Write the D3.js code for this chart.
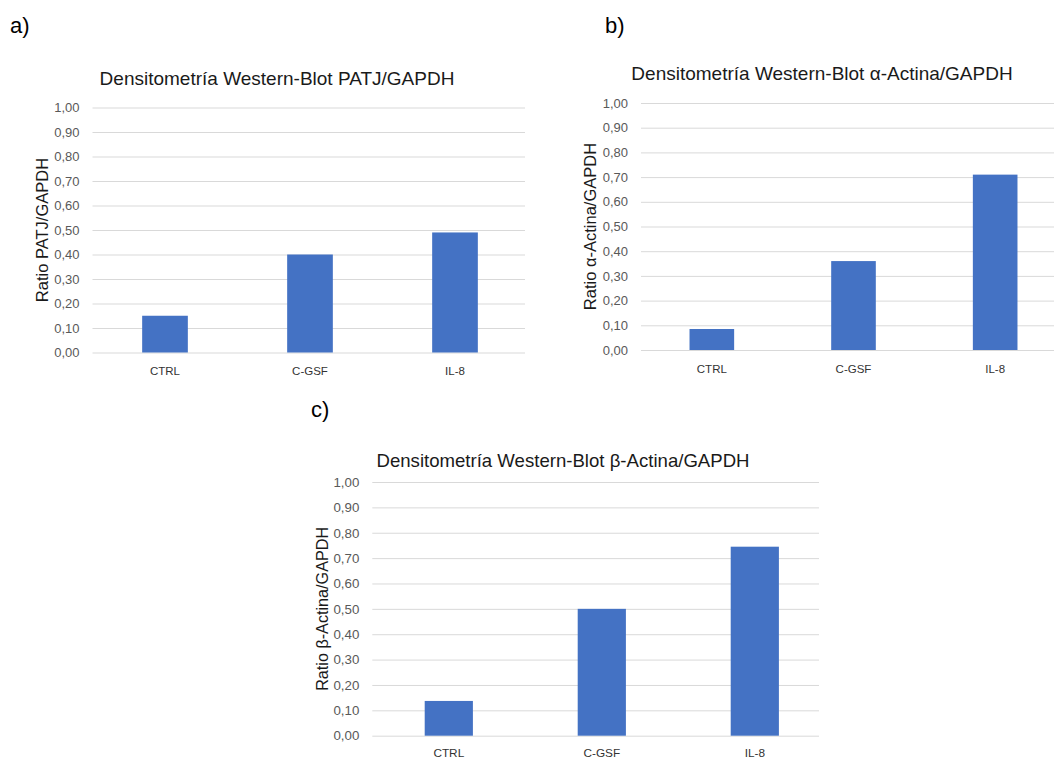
<!DOCTYPE html>
<html>
<head>
<meta charset="utf-8">
<script src="https://cdn.jsdelivr.net/npm/d3@7"></script>
<style>
  html, body { margin: 0; padding: 0; background: #ffffff; }
  svg { display: block; }
</style>
</head>
<body>
<svg id="chart" width="1054" height="760"></svg>
<script>
// ---------- DATA ----------
const categories = ["CTRL", "C-GSF", "IL-8"];
const valuesPATJ = [0.15, 0.40, 0.49];
const valuesAlphaActina = [0.085, 0.36, 0.71];
const valuesBetaActina = [0.137, 0.50, 0.745];
const yTickValues = [0, 0.1, 0.2, 0.3, 0.4, 0.5, 0.6, 0.7, 0.8, 0.9, 1.0];
const panelLetters = ["a)", "b)", "c)"];
const panelTitles = [
  "Densitometría Western-Blot PATJ/GAPDH",
  "Densitometría Western-Blot α-Actina/GAPDH",
  "Densitometría Western-Blot β-Actina/GAPDH"
];
const yAxisTitles = ["Ratio PATJ/GAPDH", "Ratio α-Actina/GAPDH", "Ratio β-Actina/GAPDH"];

// ---------- LAYOUT ----------
const layouts = [
  { values: valuesPATJ, x0: 92.5, x1: 527.5, gridX1: 525, yTop: 107.5, yBottom: 352.5,
    titleX: 277, titleY: 85, titleFs: 19, ylabX: 42, ylabFs: 16.5, tickFs: 13, catFs: 11.5,
    catY: 375, letterX: 10, letterY: 33 },
  { values: valuesAlphaActina, x0: 641, x1: 1066, gridX1: 1066, yTop: 103, yBottom: 350,
    titleX: 822, titleY: 80, titleFs: 19, ylabX: 590, ylabFs: 16.5, tickFs: 13, catFs: 11.5,
    catY: 372.5, letterX: 605, letterY: 33 },
  { values: valuesBetaActina, x0: 372.3, x1: 831.3, gridX1: 819, yTop: 482, yBottom: 735.7,
    titleX: 563, titleY: 467, titleFs: 18.6, ylabX: 322, ylabFs: 16.2, tickFs: 13.3, catFs: 11.8,
    catY: 757, letterX: 311, letterY: 417 }
];

const svg = d3.select("#chart");
const FONT = "'Liberation Sans', Arial, sans-serif";
const fmt = d => d.toFixed(2).replace(".", ",");

layouts.forEach((L, i) => {
  const g = svg.append("g");
  const x = d3.scaleBand().domain(categories).range([L.x0, L.x1])
    .paddingInner(0.685).paddingOuter(0.3425);
  const y = d3.scaleLinear().domain([0, 1]).range([L.yBottom, L.yTop]);

  // panel letter
  svg.append("text").attr("x", L.letterX).attr("y", L.letterY)
    .attr("font-family", FONT).attr("font-size", 22).attr("fill", "#000")
    .text(panelLetters[i]);

  // title
  g.append("text").attr("x", L.titleX).attr("y", L.titleY)
    .attr("text-anchor", "middle").attr("font-family", FONT)
    .attr("font-size", L.titleFs).attr("fill", "#1a1a1a")
    .text(panelTitles[i]);

  // y axis with gridlines
  const yAxis = d3.axisLeft(y).tickValues(yTickValues)
    .tickSize(-(L.gridX1 - L.x0)).tickPadding(13).tickFormat(fmt);
  const ya = g.append("g").attr("transform", `translate(${L.x0},0)`).call(yAxis);
  ya.select(".domain").remove();
  ya.selectAll(".tick line").attr("stroke", "#d9d9d9").attr("stroke-width", 1);
  ya.selectAll(".tick text").attr("font-family", FONT)
    .attr("font-size", L.tickFs).attr("fill", "#595959");

  // bars
  g.selectAll("rect.bar").data(L.values).join("rect")
    .attr("class", "bar")
    .attr("x", (d, j) => x(categories[j]))
    .attr("width", x.bandwidth())
    .attr("y", d => y(d))
    .attr("height", d => y(0) - y(d))
    .attr("fill", "#4472C4");

  // x axis labels
  const xAxis = d3.axisBottom(x).tickSize(0).tickPadding(0);
  const xa = g.append("g").attr("transform", `translate(0,${L.catY})`).call(xAxis);
  xa.select(".domain").remove();
  xa.selectAll(".tick text").attr("dy", 0).attr("y", 0)
    .attr("font-family", FONT).attr("font-size", L.catFs).attr("fill", "#333333");

  // y axis title
  const cy = (L.yTop + L.yBottom) / 2;
  g.append("text")
    .attr("transform", `translate(${L.ylabX},${cy}) rotate(-90)`)
    .attr("text-anchor", "middle").attr("dy", "0.35em")
    .attr("font-family", FONT).attr("font-size", L.ylabFs).attr("fill", "#1a1a1a")
    .text(yAxisTitles[i]);
});
</script>
</body>
</html>
